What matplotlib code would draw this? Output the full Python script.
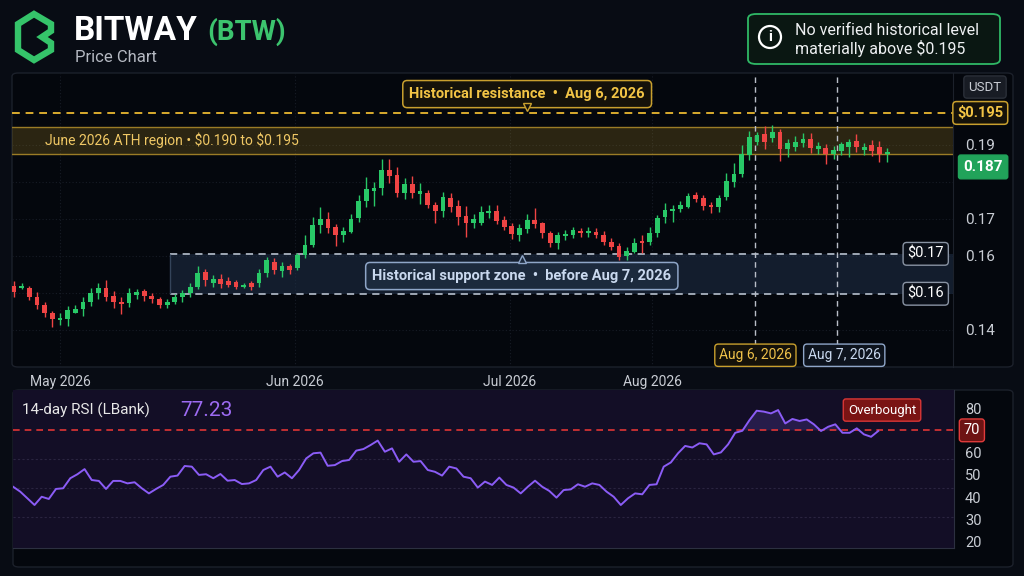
import matplotlib
matplotlib.use("Agg")
import matplotlib.pyplot as plt
import matplotlib.transforms as mtransforms
from matplotlib.patches import FancyBboxPatch, Polygon, Ellipse
import numpy as np

plt.rcParams['font.family'] = ['Roboto', 'DejaVu Sans']

# ---- data ----
opens = [0.1518, 0.1513, 0.1512, 0.1487, 0.1467, 0.1444, 0.1425, 0.1429, 0.1446, 0.1455,
         0.1474, 0.1498, 0.1513, 0.1492, 0.1476, 0.1471, 0.1495, 0.1504, 0.1492, 0.1482,
         0.1467, 0.1475, 0.1488, 0.1498, 0.1516, 0.1555, 0.1525, 0.1537, 0.1532, 0.1528,
         0.1516, 0.1525, 0.1526, 0.1552, 0.1584, 0.1559, 0.1571, 0.1566, 0.1602, 0.1629,
         0.1683, 0.1698, 0.1677, 0.1656, 0.1665, 0.1701, 0.1749, 0.1776, 0.1782, 0.1832,
         0.1817, 0.1770, 0.1794, 0.1767, 0.1769, 0.1737, 0.1721, 0.1757, 0.1734, 0.1707,
         0.1689, 0.1689, 0.1715, 0.1721, 0.1696, 0.1680, 0.1656, 0.1672, 0.1696, 0.1688,
         0.1661, 0.1634, 0.1653, 0.1656, 0.1668, 0.1661, 0.1665, 0.1656, 0.1638, 0.1626,
         0.1599, 0.1611, 0.1641, 0.1638, 0.1661, 0.1705, 0.1720, 0.1725, 0.1731, 0.1763,
         0.1757, 0.1737, 0.1731, 0.1758, 0.1800, 0.1821, 0.1872, 0.1908, 0.1928, 0.1919,
         0.1934, 0.1888, 0.1895, 0.1904, 0.1915, 0.1888, 0.1892, 0.1874, 0.1883, 0.1893,
         0.1911, 0.1886, 0.1898, 0.1893, 0.1874]
highs = [0.1532, 0.1527, 0.1518, 0.1503, 0.1476, 0.1451, 0.1444, 0.1464, 0.1467, 0.1489,
         0.1513, 0.1525, 0.1534, 0.1505, 0.1489, 0.1512, 0.1511, 0.1511, 0.1500, 0.1489,
         0.1482, 0.1496, 0.1508, 0.1525, 0.1572, 0.1563, 0.1547, 0.1550, 0.1542, 0.1534,
         0.1526, 0.1532, 0.1563, 0.1597, 0.1593, 0.1582, 0.1577, 0.1608, 0.1656, 0.1705,
         0.1732, 0.1719, 0.1686, 0.1678, 0.1713, 0.1764, 0.1812, 0.1800, 0.1861, 0.1861,
         0.1841, 0.1809, 0.1815, 0.1796, 0.1778, 0.1746, 0.1773, 0.1769, 0.1751, 0.1734,
         0.1713, 0.1734, 0.1737, 0.1737, 0.1707, 0.1689, 0.1686, 0.1713, 0.1728, 0.1692,
         0.1668, 0.1665, 0.1669, 0.1678, 0.1674, 0.1677, 0.1674, 0.1667, 0.1647, 0.1634,
         0.1624, 0.1647, 0.1656, 0.1677, 0.1710, 0.1742, 0.1737, 0.1749, 0.1770, 0.1773,
         0.1764, 0.1746, 0.1764, 0.1823, 0.1851, 0.1899, 0.1938, 0.1935, 0.1951, 0.1953,
         0.1942, 0.1915, 0.1923, 0.1932, 0.1932, 0.1908, 0.1902, 0.1897, 0.1908, 0.1915,
         0.1929, 0.1904, 0.1913, 0.1911, 0.1890]
lows = [0.1489, 0.1509, 0.1480, 0.1455, 0.1435, 0.1407, 0.1413, 0.1411, 0.1444, 0.1437,
        0.1464, 0.1484, 0.1478, 0.1458, 0.1443, 0.1460, 0.1482, 0.1478, 0.1471, 0.1459,
        0.1458, 0.1469, 0.1476, 0.1489, 0.1509, 0.1518, 0.1515, 0.1513, 0.1515, 0.1509,
        0.1513, 0.1508, 0.1516, 0.1542, 0.1551, 0.1542, 0.1551, 0.1561, 0.1593, 0.1624,
        0.1661, 0.1661, 0.1626, 0.1638, 0.1661, 0.1692, 0.1731, 0.1734, 0.1764, 0.1796,
        0.1760, 0.1752, 0.1757, 0.1739, 0.1728, 0.1688, 0.1705, 0.1719, 0.1683, 0.1651,
        0.1676, 0.1683, 0.1703, 0.1685, 0.1669, 0.1644, 0.1641, 0.1662, 0.1674, 0.1649,
        0.1624, 0.1618, 0.1642, 0.1647, 0.1651, 0.1651, 0.1649, 0.1629, 0.1615, 0.1587,
        0.1587, 0.1606, 0.1606, 0.1629, 0.1651, 0.1689, 0.1692, 0.1719, 0.1728, 0.1744,
        0.1724, 0.1716, 0.1719, 0.1751, 0.1785, 0.1814, 0.1859, 0.1899, 0.1888, 0.1907,
        0.1857, 0.1868, 0.1884, 0.1893, 0.1877, 0.1875, 0.1847, 0.1861, 0.1872, 0.1868,
        0.1881, 0.1872, 0.1870, 0.1854, 0.1854]
closes = [0.1503, 0.1518, 0.1488, 0.1467, 0.1444, 0.1428, 0.1432, 0.1453, 0.1457, 0.1474,
          0.1498, 0.1513, 0.1487, 0.1476, 0.1469, 0.1500, 0.1502, 0.1491, 0.1484, 0.1467,
          0.1476, 0.1489, 0.1500, 0.1516, 0.1554, 0.1534, 0.1536, 0.1523, 0.1522, 0.1516,
          0.1520, 0.1515, 0.1553, 0.1587, 0.1561, 0.1572, 0.1561, 0.1602, 0.1629, 0.1683,
          0.1699, 0.1674, 0.1656, 0.1667, 0.1699, 0.1749, 0.1780, 0.1784, 0.1832, 0.1816,
          0.1770, 0.1794, 0.1770, 0.1775, 0.1737, 0.1721, 0.1758, 0.1732, 0.1705, 0.1689,
          0.1698, 0.1719, 0.1721, 0.1695, 0.1678, 0.1659, 0.1674, 0.1696, 0.1686, 0.1661,
          0.1634, 0.1656, 0.1659, 0.1669, 0.1661, 0.1667, 0.1656, 0.1638, 0.1624, 0.1597,
          0.1613, 0.1634, 0.1634, 0.1662, 0.1703, 0.1724, 0.1726, 0.1737, 0.1762, 0.1754,
          0.1735, 0.1731, 0.1757, 0.1802, 0.1821, 0.1874, 0.1921, 0.1926, 0.1908, 0.1935,
          0.1888, 0.1905, 0.1908, 0.1915, 0.1890, 0.1897, 0.1875, 0.1886, 0.1901, 0.1907,
          0.1893, 0.1895, 0.1884, 0.1874, 0.1881]

rsi = [44.7, 42.5, 39.5, 36.5, 40.2, 39.2, 43.7, 44.0, 48.5, 50.3,
       52.6, 47.7, 47.3, 43.7, 47.3, 47.3, 46.2, 46.7, 44.0, 41.7,
       43.7, 45.5, 49.2, 49.7, 54.0, 53.7, 50.0, 50.3, 48.5, 50.4,
       47.4, 47.7, 45.9, 46.2, 47.7, 52.2, 53.7, 49.2, 51.1, 48.5,
       52.2, 57.4, 59.7, 60.0, 54.1, 54.4, 56.2, 56.7, 60.9, 61.6,
       63.4, 65.4, 60.4, 61.9, 55.9, 59.2, 55.9, 56.2, 52.2, 51.4,
       49.7, 53.7, 52.9, 49.2, 48.5, 44.3, 47.0, 45.5, 48.8, 45.5,
       44.3, 41.7, 44.7, 47.4, 44.7, 42.8, 39.8, 43.2, 43.5, 45.8,
       44.7, 46.2, 45.5, 42.5, 40.2, 36.5, 39.5, 41.7, 41.3, 45.5,
       45.8, 53.7, 55.6, 59.7, 63.0, 62.3, 64.2, 63.7, 59.2, 60.1,
       63.7, 68.9, 69.8, 74.6, 78.8, 78.4, 77.6, 79.1, 73.1, 75.1,
       74.2, 74.9, 72.7, 69.7, 71.6, 72.7, 68.9, 68.9, 70.9, 68.2,
       67.1, 69.7]

month_pos = [6.0, 36.7, 64.7, 83.3]
month_labels = ['May 2026', 'Jun 2026', 'Jul 2026', 'Aug 2026']
price_ticks = [0.14, 0.16, 0.17, 0.19]
price_tick_labels = ['0.14', '0.16', '0.17', '0.19']
price_grid = [0.14, 0.15, 0.16, 0.17, 0.18, 0.19]
rsi_ticks = [20, 30, 40, 50, 60, 80]
rsi_grid = [57, 44, 31]
overbought = 70

resistance_level = 0.1986          # dashed "$0.195" line as drawn
ath_low, ath_high = 0.1875, 0.1948  # June 2026 ATH band as drawn
support_low, support_high = 0.1497, 0.1605
support_start = 20.4
last_label_y = 0.1840
aug6_x, aug7_x = 96.8, 107.4

# ---- colours ----
BG = '#080c14'
PANEL = '#04070d'
EDGE = '#1c212b'
GREEN = '#28c867'
RED = '#ef4444'
GOLD = '#d9ab2e'
GOLD_TXT = '#f2c445'
SUP_EDGE = '#8fa6c8'
SUP_TXT = '#c9d8ee'
TICK = '#c9cdd4'

W, H = 1024, 576
def fx(px):
    return px / W
def fy(py):
    return 1 - py / H

fig = plt.figure(figsize=(10.24, 5.76), dpi=100, facecolor=BG)

# ---- header ----
lax = fig.add_axes([fx(13), fy(64), 44 / W, 54 / H])
lax.set_xlim(0, 44)
lax.set_ylim(0, 54)
lax.axis('off')
logo = [(5, 14), (5, 40), (21, 50), (38, 40), (38, 33), (29, 27), (38, 21), (38, 14), (21, 4)]
lax.add_patch(Polygon(logo, closed=True, fill=False, ec='#35c46a', lw=4.6, joinstyle='miter'))

fig.text(fx(74), fy(31), 'BITWAY', fontsize=24, fontweight='bold', color='white', va='center')
fig.text(fx(207), fy(32), '(BTW)', fontsize=20, fontweight='bold', color='#3cc46e', va='center')
fig.text(fx(75), fy(57), 'Price Chart', fontsize=12, color='#b5b9c2', va='center')

info = FancyBboxPatch((fx(748), fy(64)), fx(1000) - fx(748), fy(14) - fy(64),
                      boxstyle='round,pad=0,rounding_size=0.008', transform=fig.transFigure,
                      fc='#0a1712', ec='#2fb866', lw=1.3)
fig.add_artist(info)
fig.add_artist(Ellipse((fx(770), fy(37)), 22 / W, 22 / H, transform=fig.transFigure,
                       fill=False, ec='white', lw=1.6))
fig.text(fx(770), fy(37), 'i', fontsize=11, fontweight='bold', color='white', ha='center', va='center')
fig.text(fx(795), fy(40), 'No verified historical level\nmaterially above $0.195',
         fontsize=11.5, color='#eef0f2', va='center', ha='left', linespacing=1.2)

# ---- price panel ----
fig.add_artist(FancyBboxPatch((fx(12), fy(367)), fx(1013) - fx(12), fy(73) - fy(367),
                              boxstyle='round,pad=0,rounding_size=0.006', transform=fig.transFigure,
                              fc=PANEL, ec=EDGE, lw=1, zorder=0))

ax = fig.add_axes([fx(12), fy(367), (953 - 12) / W, (367 - 73) / H])
ax.set_facecolor('none')
ax.set_xlim(-0.26, 122.6)
ax.set_ylim(0.1299, 0.2094)
for s in ['top', 'left', 'bottom']:
    ax.spines[s].set_visible(False)
ax.spines['right'].set_color(EDGE)

for g in price_grid:
    ax.axhline(g, color='#171c26', lw=0.8, ls=(0, (1, 2)), zorder=0)
for m in month_pos:
    ax.axvline(m, color='#171c26', lw=0.8, ls=(0, (1, 2)), zorder=0)

# ATH region band
ax.axhspan(ath_low, ath_high, color='#c9a227', alpha=0.2, lw=0, zorder=1)
ax.axhline(ath_low, color='#9b7c26', lw=1, zorder=1)
ax.axhline(ath_high, color='#9b7c26', lw=1, zorder=1)
ax.text(4.05, (ath_low + ath_high) / 2, 'June 2026 ATH region \u2022 \\$0.190 to \\$0.195',
        fontsize=10, color='#f0c865', va='center', ha='left', zorder=6)

# resistance line
ax.axhline(resistance_level, color=GOLD, lw=1.4, ls=(0, (4, 3)), zorder=2)

# support zone
xr = ax.get_xlim()[1]
ax.fill_between([support_start, xr], support_low, support_high, color='#22344e', alpha=0.5, lw=0, zorder=1)
ax.hlines([support_low, support_high], support_start, xr, colors='#aab3c0', lw=1.3, ls=(0, (4, 3)), zorder=2)
ax.vlines(support_start, support_low, support_high, colors='#34445a', lw=1, zorder=2)

# event lines
ax.axvline(aug6_x, ymin=0.075, color='#b9bec8', lw=1, ls=(0, (4, 3)), zorder=2)
ax.axvline(aug7_x, ymin=0.075, color='#b9bec8', lw=1, ls=(0, (4, 3)), zorder=2)

# candles
o = np.array(opens)
c = np.array(closes)
idx = np.arange(len(o))
cols = np.where(c >= o, GREEN, RED)
ax.vlines(idx, lows, highs, colors=cols, lw=1, zorder=3)
ax.bar(idx, np.maximum(np.abs(c - o), 0.0003), bottom=np.minimum(o, c), width=0.62,
       color=cols, lw=0, zorder=4)

# callouts
ax.text(67, 0.2037, 'Historical resistance  \u2022  Aug 6, 2026', fontsize=10.5, fontweight='bold',
        color=GOLD_TXT, ha='center', va='center', zorder=7,
        bbox=dict(boxstyle='round,pad=0.45,rounding_size=0.3', fc='#15120a', ec='#c9a02e', lw=1.1))
ax.plot(67, 0.2002, marker='v', ms=6, mfc='#15120a', mec='#c9a02e', mew=1, zorder=8)

ax.plot(66.3, 0.1590, marker='^', ms=6, mfc='#1c2a3d', mec=SUP_EDGE, mew=1, zorder=8)
ax.text(66.3, 0.1545, 'Historical support zone  \u2022  before Aug 7, 2026', fontsize=10.5,
        fontweight='bold', color=SUP_TXT, ha='center', va='center', zorder=7,
        bbox=dict(boxstyle='round,pad=0.45,rounding_size=0.3', fc='#1c2a3d', ec=SUP_EDGE, lw=1.1))

bt = mtransforms.blended_transform_factory(ax.transData, ax.transAxes)
ax.text(aug6_x, 0.04, 'Aug 6, 2026', transform=bt, fontsize=10, color='#f0c24a',
        ha='center', va='center', zorder=7,
        bbox=dict(boxstyle='round,pad=0.3,rounding_size=0.25', fc='#14110a', ec='#c9a02e', lw=1))
ax.text(aug7_x + 1.0, 0.04, 'Aug 7, 2026', transform=bt, fontsize=10, color=SUP_TXT,
        ha='center', va='center', zorder=7,
        bbox=dict(boxstyle='round,pad=0.3,rounding_size=0.25', fc='#0d131d', ec=SUP_EDGE, lw=1))

# right-hand axis labels
ax.yaxis.tick_right()
ax.set_yticks(price_ticks, labels=price_tick_labels)
ax.tick_params(axis='y', length=0, pad=9, labelcolor=TICK, labelsize=11)
ax.set_xticks(month_pos, labels=month_labels)
ax.tick_params(axis='x', length=0, pad=6, labelcolor=TICK, labelsize=10)

yt = mtransforms.blended_transform_factory(ax.transAxes, ax.transData)
ax.text(1.034, 0.2056, 'USDT', transform=yt, fontsize=9.5, color=TICK, ha='center', va='center',
        clip_on=False, bbox=dict(boxstyle='round,pad=0.35,rounding_size=0.25', fc='#181c24', ec='#2a2f38', lw=1))
ax.text(1.029, resistance_level, '$0.195', transform=yt, fontsize=10.5, fontweight='bold', color=GOLD_TXT,
        ha='center', va='center', clip_on=False,
        bbox=dict(boxstyle='round,pad=0.3,rounding_size=0.25', fc='#15120a', ec='#c9a02e', lw=1.1))
ax.text(1.032, last_label_y, '0.187', transform=yt, fontsize=11, fontweight='bold', color='white',
        ha='center', va='center', clip_on=False,
        bbox=dict(boxstyle='round,pad=0.32,rounding_size=0.15', fc='#21a35a', ec='#21a35a', lw=1))
for lvl, lab in [(support_high, '$0.17'), (support_low, '$0.16')]:
    ax.text(0.971, lvl, lab, transform=yt, fontsize=10.5, color='white', ha='center', va='center', zorder=7,
            bbox=dict(boxstyle='round,pad=0.3,rounding_size=0.25', fc='#0a0f18', ec='#8993a3', lw=1))

# ---- RSI panel ----
fig.add_artist(FancyBboxPatch((fx(13), fy(567)), fx(1013) - fx(13), fy(390) - fy(567),
                              boxstyle='round,pad=0,rounding_size=0.006', transform=fig.transFigure,
                              fc=PANEL, ec=EDGE, lw=1, zorder=0))
rax = fig.add_axes([fx(13), fy(548), (954 - 13) / W, (548 - 390) / H])
rax.set_facecolor('#130e26')
rax.set_xlim(-0.01, 131.6)
rax.set_ylim(17.2, 88.1)
for s in ['top', 'left']:
    rax.spines[s].set_visible(False)
for s in ['right', 'bottom']:
    rax.spines[s].set_color('#2c3040')

for g in rsi_grid:
    rax.axhline(g, color='#2a2440', lw=0.8, ls=(0, (2, 2)), zorder=0)
rx = np.arange(len(rsi))
rv = np.array(rsi)
rax.fill_between(rx, rv, overbought, where=rv > overbought, interpolate=True,
                 color='#3a2b6e', alpha=0.5, lw=0, zorder=1)
rax.axhline(overbought, color='#e03535', lw=1.2, ls=(0, (4, 3)), zorder=2)
rax.plot(rx, rv, color='#8b5cf6', lw=1.4, zorder=3)

rax.yaxis.tick_right()
rax.set_yticks(rsi_ticks, labels=[str(t) for t in rsi_ticks])
rax.tick_params(axis='y', length=0, pad=8, labelcolor=TICK, labelsize=10.5)
rax.set_xticks([])

ryt = mtransforms.blended_transform_factory(rax.transAxes, rax.transData)
rax.text(1.019, overbought, '70', transform=ryt, fontsize=10.5, color='white', ha='center', va='center',
         clip_on=False, bbox=dict(boxstyle='round,pad=0.3,rounding_size=0.2', fc='#6e1414', ec='#e03b3b', lw=1))
rax.text(0.9235, 79.1, 'Overbought', transform=ryt, fontsize=9.5, color='white', ha='center', va='center',
         bbox=dict(boxstyle='round,pad=0.35,rounding_size=0.2', fc='#7a1414', ec='#d93636', lw=1))

fig.text(fx(22), fy(410), '14-day RSI (LBank)', fontsize=11, color='#e8e8e8', va='center')
fig.text(fx(180), fy(410), '77.23', fontsize=15, color='#9d6bf2', va='center')

fig.savefig('out.png', dpi=100, facecolor=BG)
